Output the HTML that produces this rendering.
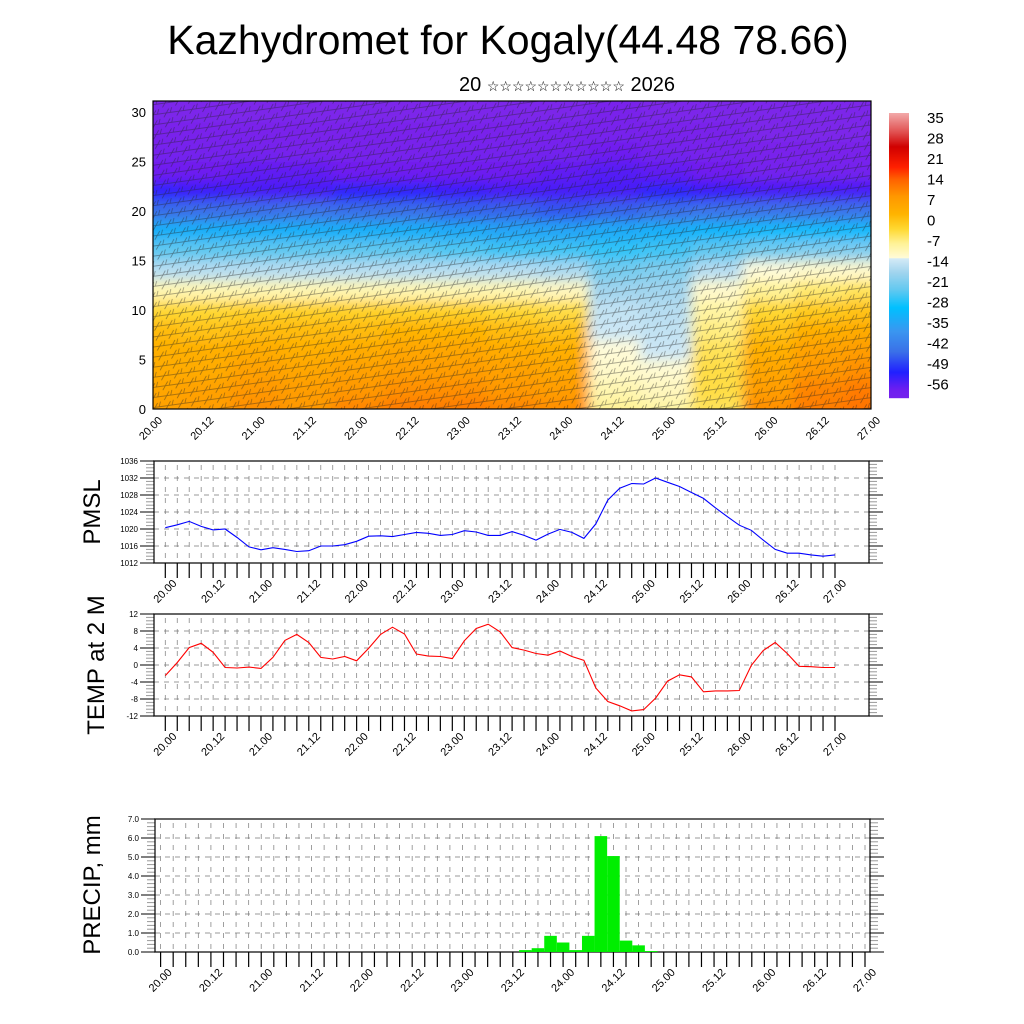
<!DOCTYPE html>
<html><head><meta charset="utf-8"><style>
body{margin:0;background:#fff;}
svg{display:block;font-family:"Liberation Sans",sans-serif;}
</style></head><body>
<svg id="s" width="1024" height="1024" viewBox="0 0 1024 1024">
<defs>
<filter id="blur" x="-5%" y="-5%" width="110%" height="110%"><feGaussianBlur stdDeviation="6"/></filter>
<clipPath id="topclip"><rect x="153" y="101" width="718" height="308"/></clipPath>
<pattern id="barbs" width="13" height="10" patternUnits="userSpaceOnUse" patternTransform="rotate(-8)">
<path d="M0 5 L13 5 M10 5 L12 0 M3 9 L9 1" stroke="#222" stroke-width="0.7" fill="none"/>
</pattern>
</defs>
<text x="508" y="54" font-size="41" text-anchor="middle">Kazhydromet for Kogaly(44.48 78.66)</text>
<text x="567" y="91" font-size="20" text-anchor="middle">20 <tspan font-size="14">☆☆☆☆☆☆☆☆☆☆☆</tspan> 2026</text>
<g id="topPanel"></g>
<g id="cb"></g>
<g id="pmsl"></g>
<g id="temp"></g>
<g id="prec"></g>
<text transform="translate(100,512) rotate(-90)" font-size="24" text-anchor="middle">PMSL</text>
<text transform="translate(104,665) rotate(-90)" font-size="24" text-anchor="middle">TEMP at 2 M</text>
<text transform="translate(100,885) rotate(-90)" font-size="24" text-anchor="middle">PRECIP, mm</text>
</svg>
<script>
var timeLabels=["20.00","20.12","21.00","21.12","22.00","22.12","23.00","23.12","24.00","24.12","25.00","25.12","26.00","26.12","27.00"];
var heights=[0,2,4,6,8,10,12,14,16,18,20,22,24,26,28,30];
var heightTicks=[0,5,10,15,20,25,30];
var tempField=[
[6,7,9,8,10,11,11,10,9,-8,-9,-5,9,11,12],
[5,6,8,7,8,9,9,8,7,-10,-11,-4,7,10,11],
[4,4,6,5,6,7,7,6,5,-12,-12.5,-4,5,8,9],
[3,3,4,3,4,5,5,4,3,-13,-14,-5,3,6,7],
[1,0,1,1,1,2,2,1,0,-14,-15,-7,0,3,4],
[-3,-3,-2,-2,-2,-2,-2,-3,-4,-15,-16,-9,-3,-1,0],
[-10,-10,-10,-10,-10,-10,-10,-10,-11,-18,-18,-12,-8,-6,-5],
[-16,-16,-16,-16,-16,-16,-16,-16,-17,-22,-21,-16,-13,-12,-12],
[-24,-24,-24,-24,-24,-24,-25,-26,-26,-27,-26,-24,-22,-21,-21],
[-33,-33,-33,-33,-33,-33,-34,-35,-35,-34,-33,-32,-31,-31,-31],
[-45,-45,-45,-44,-45,-45,-46,-46,-47,-46,-45,-44,-44,-44,-44],
[-53,-54,-55,-55,-53,-53,-54,-55,-55,-55,-53,-54,-55,-55,-55],
[-58,-58,-57,-57,-58,-58,-58,-58,-57,-56,-57,-59,-60,-60,-60],
[-61,-61,-61,-62,-62,-62,-61,-61,-60,-58,-60,-62,-63,-63,-63],
[-63,-63,-63,-63,-63,-63,-63,-63,-62,-62,-63,-63,-64,-64,-64],
[-64,-64,-64,-64,-64,-64,-64,-64,-64,-63,-64,-64,-64,-64,-64]];
var cbLabels=[35,28,21,14,7,0,-7,-14,-21,-28,-35,-42,-49,-56];
var pmslValues=[1020.3,1021,1021.8,1020.6,1019.8,1020,1018,1015.8,1015.1,1015.6,1015.2,1014.7,1014.9,1016,1016,1016.3,1017.1,1018.3,1018.4,1018.2,1018.7,1019.2,1019,1018.5,1018.7,1019.6,1019.3,1018.5,1018.5,1019.4,1018.5,1017.4,1018.8,1019.9,1019.2,1017.8,1021.2,1026.8,1029.6,1030.7,1030.6,1032,1031,1030,1028.6,1027.2,1025,1022.9,1020.9,1019.7,1017.4,1015.2,1014.3,1014.3,1013.9,1013.6,1013.9];
var pmslTicks=[1012,1016,1020,1024,1028,1032,1036];
var tempValues=[-2.5,0.6,4.1,5.1,3,-0.6,-0.7,-0.5,-0.8,1.8,5.8,7.2,5.3,1.8,1.4,2,1,3.9,7.2,8.9,7.3,2.6,2.1,2,1.5,5.7,8.6,9.6,7.8,4.1,3.5,2.7,2.3,3.3,2,1.1,-5.4,-8.6,-9.6,-10.8,-10.5,-7.8,-3.8,-2.3,-2.8,-6.3,-6.1,-6.1,-6,-0.1,3.4,5.3,2.7,-0.3,-0.4,-0.6,-0.6];
var tempTicks=[-12,-8,-4,0,4,8,12];
var precipIndex=[29,30,31,32,33,34,35,36,37,38,39];
var precipValues=[0.1,0.2,0.85,0.5,0.1,0.85,6.1,5.05,0.6,0.35,0.05];
var precipTicks=["0.0","1.0","2.0","3.0","4.0","5.0","6.0","7.0"];

var NS="http://www.w3.org/2000/svg";
function mk(tag,attrs,parent){var e=document.createElementNS(NS,tag);for(var k in attrs)e.setAttribute(k,attrs[k]);parent.appendChild(e);return e;}
var anchors=[[-66,[128,40,232]],[-58,[110,30,240]],[-52,[32,32,255]],[-45,[58,112,232]],[-38,[58,150,240]],[-30,[0,192,255]],[-24,[96,200,240]],[-18,[160,212,238]],[-13.2,[212,234,246]],[-13,[255,251,216]],[-8,[255,242,150]],[-3,[255,216,48]],[2,[255,180,0]],[8,[255,152,0]],[14,[255,96,0]],[18,[255,32,0]],[25,[208,0,0]],[30,[224,80,80]],[37,[244,176,176]]];
function col(v){if(v<=anchors[0][0])return "rgb("+anchors[0][1]+")";for(var i=1;i<anchors.length;i++){if(v<=anchors[i][0]){var a=anchors[i-1],b=anchors[i],t=(v-a[0])/(b[0]-a[0]);return "rgb("+[0,1,2].map(function(k){return Math.round(a[1][k]+t*(b[1][k]-a[1][k]));}).join(",")+")";}}return "rgb("+anchors[anchors.length-1][1]+")";}

var topG=document.getElementById('topPanel');
var TX0=153,TX1=871,TYB=409,TYT=101;
function tx(i){return TX0+i*(TX1-TX0)/(timeLabels.length-1);}
function ty(h){return TYB-h*9.9;}
var clipG=mk('g',{'clip-path':'url(#topclip)'},topG);
var fieldG=mk('g',{filter:'url(#blur)'},clipG);
var cw=(TX1-TX0)/(timeLabels.length-1),ch=9.9*2;
for(var r=0;r<heights.length;r++){for(var c=0;c<timeLabels.length;c++){
 var x0=tx(c)-cw/2,x1=tx(c)+cw/2,y0=ty(heights[r])-ch/2,y1=ty(heights[r])+ch/2;
 if(c==0)x0-=40;if(c==timeLabels.length-1)x1+=40;if(r==0)y1+=40;if(r==heights.length-1)y0-=40;
 var cell=mk('rect',{x:x0,y:y0,width:x1-x0+0.5,height:y1-y0+0.5,fill:col(tempField[r][c])},fieldG);
 
 
}}
var barbs=mk('rect',{x:TX0,y:TYT,width:TX1-TX0,height:TYB-TYT,fill:'url(#barbs)',opacity:'0.5'},clipG);


var frame=mk('rect',{x:TX0,y:TYT,width:TX1-TX0,height:TYB-TYT,fill:'none',stroke:'#000','stroke-width':1.2},topG);


heightTicks.forEach(function(h){
 var t=mk('text',{x:146,y:ty(h)+5,'font-size':13,'text-anchor':'end'},topG);t.textContent=h;
 
 
});
timeLabels.forEach(function(l,i){
 var t=mk('text',{transform:'translate('+(tx(i)+10)+',421) rotate(-45)','font-size':11,'text-anchor':'end'},topG);t.textContent=l;
 
 
});

var cb=document.getElementById('cb');
function cby(v){return 117+(35-v)/7*20.5;}
for(var y=113;y<398;y++){var v=35-(y-117)/20.5*7;mk('rect',{x:889,y:y,width:20,height:1.2,fill:col(v)},cb);}
cbLabels.forEach(function(v){var t=mk('text',{x:927,y:cby(v)+6,'font-size':15},cb);t.textContent=v;
 
 });

function panel(gid,x0,x1,xa,xb,yt,yb,vmin,vmax,ticks,tickText){
 var g=document.getElementById(gid);
 var P={g:g,x:function(i){return xa+i*(xb-xa)/56;},y:function(v){return yb-(v-vmin)/(vmax-vmin)*(yb-yt);}};
 for(var i=0;i<=56;i++){var x=P.x(i);
  mk('line',{x1:x,y1:yt+4,x2:x,y2:yb,stroke:'#888','stroke-width':0.8,'stroke-dasharray':'5,6'},g);
  mk('line',{x1:x,y1:yb,x2:x,y2:yb+15,stroke:'#000','stroke-width':1.2},g);}
 ticks.forEach(function(v,k){var y=P.y(+v);
  mk('line',{x1:x0,y1:y,x2:x1,y2:y,stroke:'#777','stroke-width':0.8,'stroke-dasharray':'5,5'},g);
  mk('line',{x1:x0-14,y1:y,x2:x0,y2:y,stroke:'#555','stroke-width':1.5},g);
  mk('line',{x1:x1,y1:y,x2:x1+14,y2:y,stroke:'#555','stroke-width':1.5},g);
  var t=mk('text',{x:x0-16,y:y+3,'font-size':8,'text-anchor':'end'},g);t.textContent=tickText?tickText[k]:v;
  
  
  if(k<ticks.length-1){var y2=P.y(+ticks[k+1]);for(var m=1;m<5;m++){var ym=y+(y2-y)*m/5;
   mk('line',{x1:x0-8,y1:ym,x2:x0,y2:ym,stroke:'#999','stroke-width':1},g);
   mk('line',{x1:x1,y1:ym,x2:x1+8,y2:ym,stroke:'#999','stroke-width':1},g);}}
 });
 var fr=mk('rect',{x:x0,y:yt,width:x1-x0,height:yb-yt,fill:'none',stroke:'#000','stroke-width':1.2},g);
 
 
 timeLabels.forEach(function(l,i){var t=mk('text',{transform:'translate('+(P.x(i*4)+12)+','+(yb+21)+') rotate(-45)','font-size':11,'text-anchor':'end'},g);t.textContent=l;
  
  });
 return P;
}
var P1=panel('pmsl',154,869,165.3,835,461,563,1012,1036,pmslTicks);
var d1=pmslValues.map(function(v,i){return (i?'L':'M')+P1.x(i).toFixed(1)+' '+P1.y(v).toFixed(1);}).join(' ');
var l1=mk('path',{d:d1,fill:'none',stroke:'#0000ff','stroke-width':1.1},P1.g);



var P2=panel('temp',154,869,165.3,835,614,716,-12,12,tempTicks);
var d2=tempValues.map(function(v,i){return (i?'L':'M')+P2.x(i).toFixed(1)+' '+P2.y(v).toFixed(1);}).join(' ');
var l2=mk('path',{d:d2,fill:'none',stroke:'#ff0000','stroke-width':1.1},P2.g);



var P3=panel('prec',155,870,160.6,865,819,952,0,7,precipTicks.map(Number),precipTicks);
var bw=(865-160.6)/56;
precipIndex.forEach(function(idx,k){var v=precipValues[k];var y=P3.y(v);
 var b=mk('rect',{x:P3.x(idx)-bw/2,y:y,width:bw,height:952-y,fill:'#00ee00'},P3.g);
 
 
});
</script>
</body></html>
